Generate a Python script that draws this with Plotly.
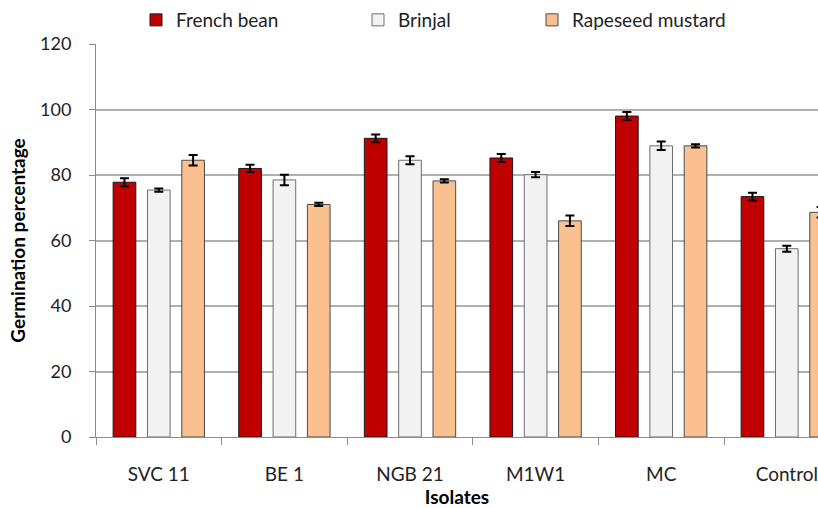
import plotly.graph_objects as go

categories = ["SVC 11", "BE 1", "NGB 21", "M1W1", "MC", "Control"]
series_names = ["French bean", "Brinjal", "Rapeseed mustard"]
french_bean = [77.8, 82.0, 91.2, 85.2, 98.0, 73.4]
french_bean_err = [1.2, 1.1, 1.2, 1.2, 1.2, 1.2]
brinjal = [75.4, 78.5, 84.5, 80.1, 88.9, 57.5]
brinjal_err = [0.5, 1.6, 1.2, 0.8, 1.3, 0.9]
rapeseed = [84.5, 71.0, 78.2, 66.0, 88.9, 68.6]
rapeseed_err = [1.6, 0.5, 0.5, 1.6, 0.5, 1.6]
y_ticks = [0, 20, 40, 60, 80, 100, 120]

colors = ["#C00000", "#F2F2F2", "#FAC090"]
outline = ["#1a1a1a", "#6e6e6e", "#4a4a4a"]
values = [french_bean, brinjal, rapeseed]
errors = [french_bean_err, brinjal_err, rapeseed_err]
legends = ["legend", "legend2", "legend3"]
legend_px = [136, 358, 532]

FONT = "Lato, sans-serif"

fig = go.Figure()
for name, v, e, c, oc, lg in zip(series_names, values, errors, colors, outline, legends):
    fig.add_trace(go.Bar(
        name=name, x=categories, y=v,
        marker=dict(color=c, line=dict(color=oc, width=1)),
        error_y=dict(type="data", array=e, visible=True, color="black", thickness=2, width=4.5),
        legend=lg, showlegend=True,
    ))

L, T, B = 96, 44, 71
W = 818 - L
leg_common = dict(orientation="h", yanchor="middle", xanchor="left",
                  yref="container", y=1 - 20 / 508,
                  font=dict(family=FONT, size=19, color="#222"), bgcolor="rgba(0,0,0,0)",
                  itemwidth=30)
layout_legends = {lg: dict(x=(px - L) / W, **leg_common) for lg, px in zip(legends, legend_px)}

fig.update_layout(
    width=818, height=508,
    margin=dict(l=L, r=0, t=T, b=B, autoexpand=False),
    paper_bgcolor="white", plot_bgcolor="white",
    showlegend=True,
    barmode="group", bargap=0.18, bargroupgap=0.34,
    font=dict(family=FONT, size=19, color="#222"),
    xaxis=dict(
        range=[-0.5, -0.5 + W / 125.6],
        tickson="boundaries", ticks="outside", ticklen=7, tickcolor="#8c8c8c",
        showline=True, linecolor="#8c8c8c", linewidth=1,
        ticklabelstandoff=20, tickfont=dict(family=FONT, size=19, color="#222"),
        title=dict(text="<b>Isolates</b>", font=dict(family=FONT, size=19, color="#000"), standoff=0),
        showgrid=False,
    ),
    yaxis=dict(
        range=[0, 120], tickvals=y_ticks, ticks="outside", ticklen=6, tickcolor="#8c8c8c",
        showline=True, linecolor="#8c8c8c", linewidth=1,
        showgrid=True, gridcolor="#b0b0b0", gridwidth=1.5,
        zeroline=False, ticklabelstandoff=14,
        tickfont=dict(family=FONT, size=18, color="#222"),
        title=dict(text="<b>Germination percentage</b>", font=dict(family=FONT, size=19, color="#000"), standoff=9),
    ),
    **layout_legends,
)
fig.write_html("out.html", config={"displayModeBar": False},
               post_script="document.body.style.margin='0';document.body.style.overflow='hidden';")
